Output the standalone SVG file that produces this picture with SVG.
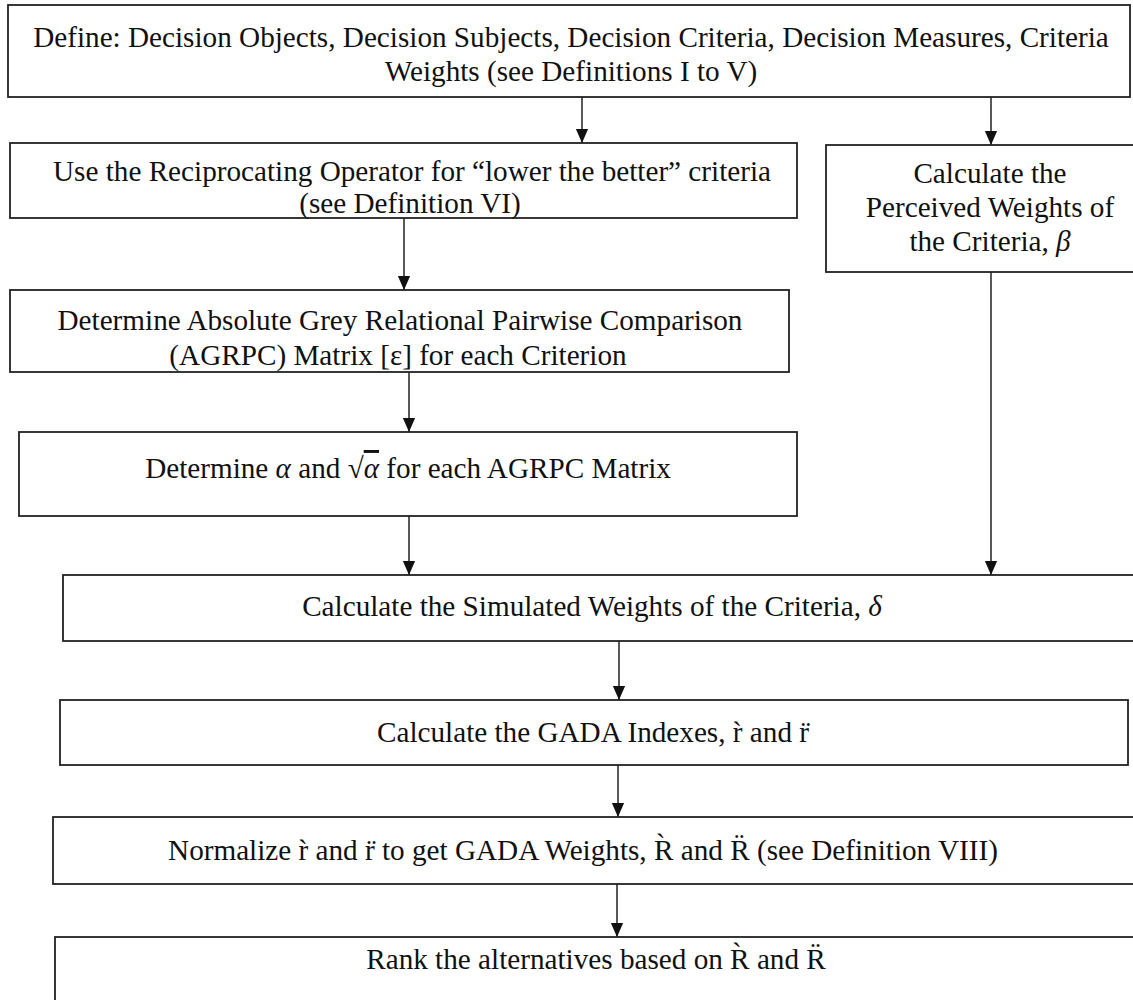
<svg xmlns="http://www.w3.org/2000/svg" width="1133" height="1000" viewBox="0 0 1133 1000">
<defs>
<style>
.box{fill:#fff;stroke:#222;stroke-width:1.8}
.t{font-family:"Liberation Serif","Times New Roman",serif;font-size:29.2px;fill:#111;text-anchor:middle}
.m{font-style:italic}
.c{stroke:#222;stroke-width:1.5;fill:none}
</style>
<marker id="ah" markerUnits="userSpaceOnUse" markerWidth="14" markerHeight="14" refX="16" refY="7" orient="auto" viewBox="0 0 16 14">
<path d="M0,0 L16,7 L0,14 z" fill="#111"/>
</marker>
</defs>
<rect width="1133" height="1000" fill="#fff"/>
<g id="connectors">
<line class="c" x1="582" y1="97" x2="582" y2="143" marker-end="url(#ah)"/>
<line class="c" x1="991" y1="97" x2="991" y2="145" marker-end="url(#ah)"/>
<line class="c" x1="404" y1="218" x2="404" y2="290" marker-end="url(#ah)"/>
<line class="c" x1="409" y1="372" x2="409" y2="432" marker-end="url(#ah)"/>
<line class="c" x1="409" y1="516" x2="409" y2="575" marker-end="url(#ah)"/>
<line class="c" x1="991" y1="272" x2="991" y2="575" marker-end="url(#ah)"/>
<line class="c" x1="619" y1="641" x2="619" y2="700" marker-end="url(#ah)"/>
<line class="c" x1="618" y1="765" x2="618" y2="817" marker-end="url(#ah)"/>
<line class="c" x1="617" y1="884" x2="617" y2="937" marker-end="url(#ah)"/>
</g>
<g id="n1">
<rect class="box" x="8" y="5" width="1122" height="92"/>
<text class="t" x="571" y="47">Define: Decision Objects, Decision Subjects, Decision Criteria, Decision Measures, Criteria</text>
<text class="t" x="571" y="81">Weights (see Definitions I to V)</text>
</g>
<g id="n2">
<rect class="box" x="10" y="143" width="787" height="75"/>
<text class="t" x="412" y="181">Use the Reciprocating Operator for “lower the better” criteria</text>
<text class="t" x="410" y="213">(see Definition VI)</text>
</g>
<g id="n3">
<rect class="box" x="826" y="145" width="320" height="127"/>
<text class="t" x="990" y="183">Calculate the</text>
<text class="t" x="990" y="217">Perceived Weights of</text>
<text class="t" x="990" y="251">the Criteria, <tspan class="m">β</tspan></text>
</g>
<g id="n4">
<rect class="box" x="10" y="290" width="779" height="82"/>
<text class="t" x="400" y="330">Determine Absolute Grey Relational Pairwise Comparison</text>
<text class="t" x="398" y="365">(AGRPC) Matrix [ε] for each Criterion</text>
</g>
<g id="n5">
<rect class="box" x="19" y="432" width="778" height="84"/>
<text class="t" x="408" y="478">Determine <tspan class="m">α</tspan> and √<tspan class="m" style="text-decoration:overline">α</tspan> for each AGRPC Matrix</text>
</g>
<g id="n6">
<rect class="box" x="63" y="575" width="1085" height="66"/>
<text class="t" x="592" y="616">Calculate the Simulated Weights of the Criteria, <tspan class="m">δ</tspan></text>
</g>
<g id="n7">
<rect class="box" x="60" y="700" width="1068" height="65"/>
<text class="t" x="593" y="742">Calculate the GADA Indexes, r̀ and r̈</text>
</g>
<g id="n8">
<rect class="box" x="53" y="817" width="1095" height="67"/>
<text class="t" x="583" y="860">Normalize r̀ and r̈ to get GADA Weights, R̀ and R̈ (see Definition VIII)</text>
</g>
<g id="n9">
<rect class="box" x="55" y="937" width="1095" height="80"/>
<text class="t" x="596" y="969">Rank the alternatives based on R̀ and R̈</text>
</g>
</svg>
